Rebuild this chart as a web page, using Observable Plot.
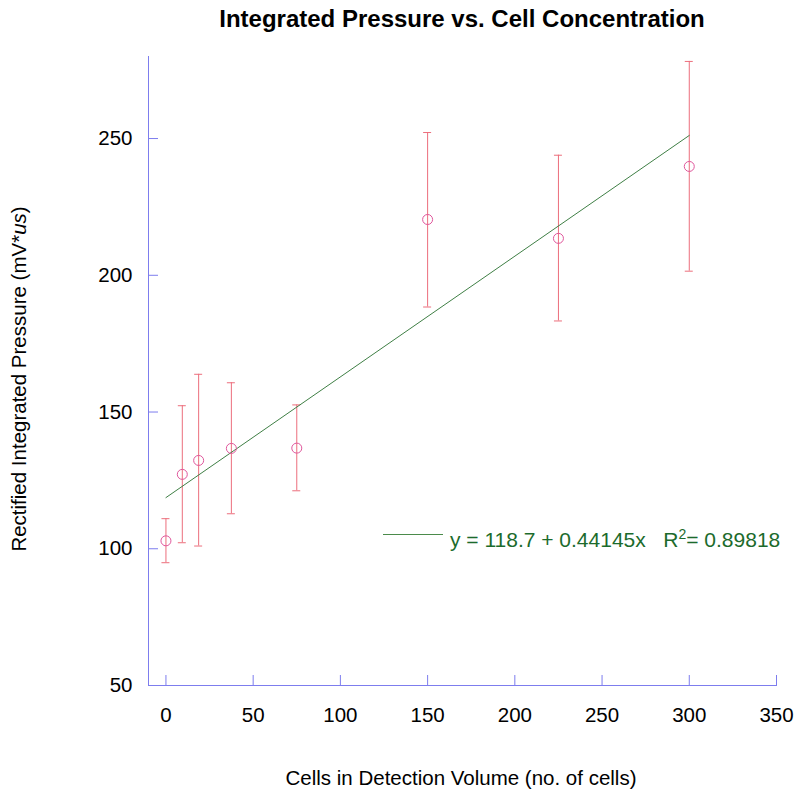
<!DOCTYPE html>
<html>
<head>
<meta charset="utf-8">
<script src="https://cdn.jsdelivr.net/npm/d3@7"></script>
<script src="https://cdn.jsdelivr.net/npm/@observablehq/plot@0.6"></script>
<style>
  body { margin: 0; background: #fff; font-family: "Liberation Sans", Arial, sans-serif; }
  #wrap { position: relative; width: 800px; height: 799px; }
  #wrap svg { position: absolute; left: 0; top: 0; }
  .lbl { position: absolute; color: #000; white-space: nowrap; }
</style>
</head>
<body>
<div id="wrap">
  <div class="lbl" id="title" style="left:0;width:924px;top:7px;line-height:24px;text-align:center;font-weight:bold;font-size:24px;">Integrated Pressure vs. Cell Concentration</div>
  <div class="lbl" id="ylab" style="left:19px;top:379px;font-size:20.5px;transform:translate(-50%,-50%) rotate(-90deg);">Rectified Integrated Pressure (mV*<i>us</i>)</div>
  <div class="lbl" id="xlab" style="left:461px;top:766px;font-size:20.5px;transform:translateX(-50%);">Cells in Detection Volume (no. of cells)</div>
  <div class="lbl" id="legend" style="left:383px;top:526px;font-size:21px;color:#1c6b2c;">
    <span style="display:inline-block;width:60px;height:0;border-top:1px solid #4b8b4b;vertical-align:middle;margin-right:7px;position:relative;top:-7px;"></span>y = 118.7 + 0.44145x &nbsp;&nbsp;R<sup style="font-size:14px;">2</sup>= 0.89818
  </div>
</div>
<script>
// Cells in detection volume (no. of cells)
const cells = [0, 9.375, 18.75, 37.5, 75, 150, 225, 300];
// Rectified integrated pressure (mV*us): mean, upper and lower error bar ends
const pressure = [102.9, 127.2, 132.3, 136.7, 136.8, 220.4, 213.5, 239.8];
const upper    = [111.0, 152.3, 163.8, 160.7, 152.6, 252.2, 243.9, 278.2];
const lower    = [94.9, 102.2, 101.0, 112.8, 121.2, 188.4, 183.3, 201.5];
// Linear fit
const fitIntercept = 118.7;
const fitSlope = 0.44145;
const fitRange = [0, 300];
// Tick labels
const xTicks = [0, 50, 100, 150, 200, 250, 300, 350];
const yTicks = [50, 100, 150, 200, 250];

const points = cells.map((c, i) => ({x: c, y: pressure[i], hi: upper[i], lo: lower[i]}));
const fit = fitRange.map(x => ({x, y: fitIntercept + fitSlope * x}));

const axisColor = "#7d7dee";
const errColor = "#ec6e7c";
const dotColor = "#e0579c";
const fitColor = "#3f7f45";

const chart = Plot.plot({
  width: 800,
  height: 799,
  marginLeft: 148,
  marginRight: 24,
  marginTop: 56,
  marginBottom: 114,
  style: {fontFamily: "'Liberation Sans', Arial, sans-serif", fontSize: "20px", background: "transparent", overflow: "visible"},
  x: {domain: [-10, 350]},
  y: {domain: [50, 280]},
  marks: [
    Plot.axisX(xTicks, {tickSize: -10, tickPadding: 32, stroke: axisColor, color: "#000", label: null, fontSize: 20.5}),
    Plot.axisY(yTicks, {tickSize: -10, tickPadding: 26, stroke: axisColor, color: "#000", label: null, fontSize: 20.5}),
    Plot.frame({anchor: "left", stroke: axisColor}),
    Plot.frame({anchor: "bottom", stroke: axisColor}),
    Plot.ruleX(points, {x: "x", y1: "lo", y2: "hi", stroke: errColor, strokeWidth: 1}),
    Plot.ruleY(points, {y: "hi", x1: "x", x2: "x", insetLeft: -4, insetRight: -4, stroke: errColor}),
    Plot.ruleY(points, {y: "lo", x1: "x", x2: "x", insetLeft: -4, insetRight: -4, stroke: errColor}),
    Plot.line(fit, {x: "x", y: "y", stroke: fitColor, strokeWidth: 1}),
    Plot.dot(points, {x: "x", y: "y", r: 5, stroke: dotColor, strokeWidth: 1, fill: "white", fillOpacity: 0})
  ]
});
document.getElementById("wrap").prepend(chart);
</script>
</body>
</html>
